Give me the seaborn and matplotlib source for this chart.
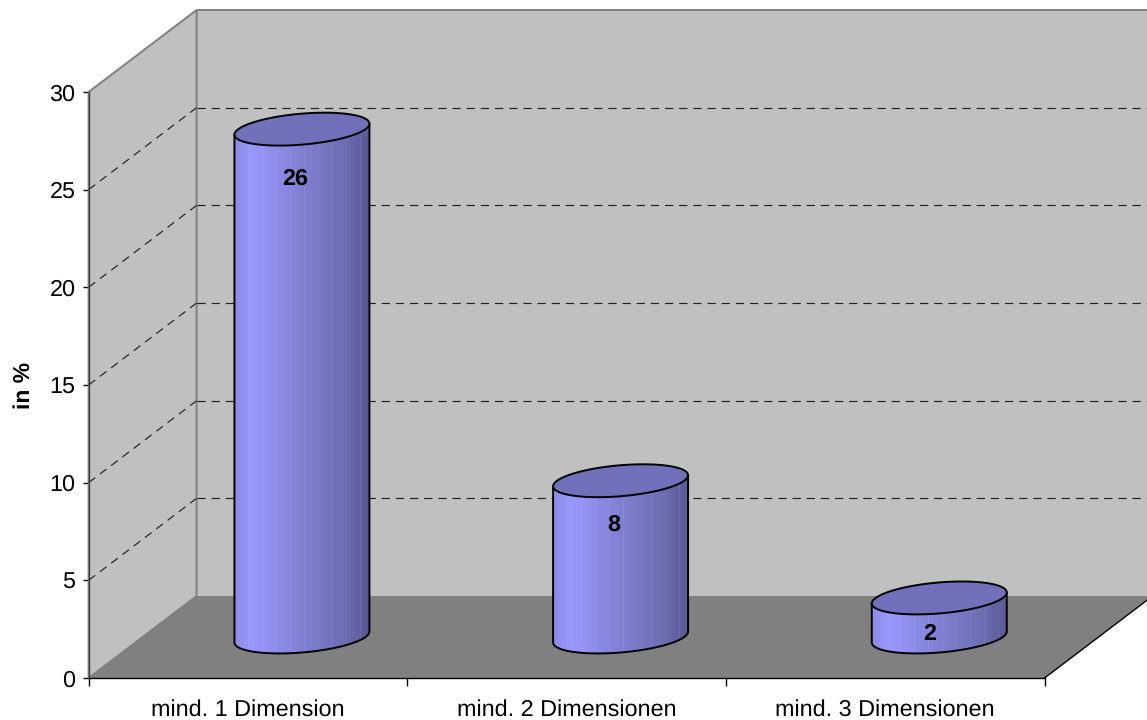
import numpy as np
import pandas as pd
import matplotlib
matplotlib.use("Agg")
import matplotlib.pyplot as plt
from matplotlib.patches import Polygon
from matplotlib.transforms import Affine2D, IdentityTransform
from matplotlib.colors import LinearSegmentedColormap
import seaborn as sns

categories = ["mind. 1 Dimension", "mind. 2 Dimensionen", "mind. 3 Dimensionen"]
values = [26, 8, 2]
y_ticks = [0, 5, 10, 15, 20, 25, 30]
y_label = "in %"

sns.set_theme(style="white")
plt.rcParams["font.family"] = ["Liberation Sans", "DejaVu Sans"]
plt.rcParams["text.hinting"] = "no_hinting"
plt.rcParams["text.hinting_factor"] = 8
FS = 16.8

fig = plt.figure(figsize=(11.47, 7.2), dpi=100, facecolor="white")
ax = fig.add_axes([88.6 / 1147, (720 - 678) / 720, 956 / 1147, 586 / 720])
df = pd.DataFrame({"cat": categories, "val": values})
sns.barplot(data=df, x="cat", y="val", color="#7f7fd1", width=0.4236,
            saturation=1, ax=ax, zorder=3)
ax.set_xlim(-0.5, 2.5)
ax.set_ylim(0, 30)
ax.set_autoscale_on(False)
ax.patch.set_visible(False)

DX, DY = 108, 82       # depth of the pseudo-3D box in pixels
px = IdentityTransform()


def to_px(x, v):
    return ax.transData.transform((x, v))


# walls and floor
fl, bl = to_px(-0.5, 0), to_px(-0.5, 30)
fr, br = to_px(2.5, 0), to_px(2.5, 30)
d = np.array([DX, DY])
WALL, FLOOR, EDGE = "#c0c0c0", "#808080", "#808080"
ax.add_patch(Polygon([fl + d, fr + d, br + d, bl + d], closed=True, fc=WALL, ec="none",
                     transform=px, clip_on=False, zorder=0.5))
ax.add_patch(Polygon([fl, bl, bl + d, fl + d], closed=True, fc=WALL, ec=EDGE, lw=1.4,
                     transform=px, clip_on=False, zorder=0.6))
ax.add_patch(Polygon([fl, fr, fr + d, fl + d], closed=True, fc=FLOOR, ec="none",
                     transform=px, clip_on=False, zorder=0.7))
ax.plot(*np.array([bl + d, br + d]).T, transform=px, color=EDGE, lw=1.4, clip_on=False,
        zorder=0.8)
ax.plot(*np.array([fr, fr + d]).T, transform=px, color="black", lw=1.0, clip_on=False,
        zorder=0.8)

# dashed grid on side wall and back wall
for v in y_ticks[1:-1]:
    p = to_px(-0.5, v)
    q = to_px(2.5, v)
    ax.plot(*np.array([p, p + d]).T, transform=px, color="#222222", lw=0.85,
            dashes=(7, 5), clip_on=False, zorder=0.9)
    ax.plot(*np.array([p + d, q + d]).T, transform=px, color="#222222", lw=0.85,
            dashes=(7, 5), clip_on=False, zorder=0.9)

# cylinders built on the seaborn bars
stops = [(0.0, "#8c8ce6"), (0.13, "#9999ff"), (0.5, "#8080d3"), (0.8, "#6f6fb5"), (1.0, "#5a5a96")]
cmap = LinearSegmentedColormap.from_list("cyl", stops)
grad = cmap(np.linspace(0, 1, 135))
grad[::14, :3] = grad[::14, :3] * 0.93 + 0.07   # faint vertical facets of the cylinder
grad = grad[None, :, :]
TOPC = "#7070bb"
SHEAR, RY = 5.5 / 67.5, 15.5
half = d / 2

bars = [b for b in ax.patches if isinstance(b, matplotlib.patches.Rectangle)
        and b.get_width() < 1 and b.get_height() > 0]
label_shift = [(47, -9), (47, -3), (44, 5)]

for bar, val, shift in zip(bars, values, label_shift):
    xc = bar.get_x() + bar.get_width() / 2
    base = to_px(xc, 0) + half
    top = to_px(xc, val) + half
    a = (to_px(bar.get_x() + bar.get_width(), 0)[0] - to_px(bar.get_x(), 0)[0]) / 2

    def arc(c, t):
        return np.c_[c[0] + a * np.cos(t), c[1] + SHEAR * a * np.cos(t) + RY * np.sin(t)]

    lower = np.linspace(np.pi, 2 * np.pi, 80)
    body = np.vstack([arc(base, lower), arc(top, lower)[::-1]])
    clip = Polygon(body, closed=True, transform=px, fc="none", ec="none")
    ax.add_patch(clip)

    bar.set_transform(ax.transData + Affine2D().translate(*half))
    bar.set_clip_path(clip)
    bar.set_edgecolor("none")

    ext = [base[0] - a, base[0] + a, base[1] - 40, top[1] + 40]
    im = ax.imshow(grad, extent=ext, transform=px, aspect="auto", zorder=3.1,
                   interpolation="nearest", origin="lower")
    im.set_clip_path(clip)

    outline = np.vstack([[top[0] - a, top[1] - SHEAR * a], arc(base, lower),
                         [top[0] + a, top[1] + SHEAR * a]])
    ax.plot(outline[:, 0], outline[:, 1], transform=px, color="black", lw=1.4,
            clip_on=False, zorder=3.2)
    full = np.linspace(0, 2 * np.pi, 160)
    ax.add_patch(Polygon(arc(top, full), closed=True, fc=TOPC, ec="black", lw=1.4,
                         transform=px, clip_on=False, zorder=3.3))
    ax.annotate(f"{val}", xy=(xc, val), xytext=(shift[0] * 0.72, shift[1] * 0.72),
                textcoords="offset points", ha="center", va="center",
                fontsize=FS, fontweight="bold", color="black", zorder=4)

# axes
ax.set_xlim(-0.5, 2.5)
ax.set_ylim(0, 30)
for s in ("top", "right"):
    ax.spines[s].set_visible(False)
for s in ("left", "bottom"):
    ax.spines[s].set_visible(True)
    ax.spines[s].set_color("black")
    ax.spines[s].set_linewidth(1.0)
    ax.spines[s].set_zorder(2)
ax.spines["left"].set_color("#404040")
ax.set_yticks(y_ticks)
ax.set_xticks([-0.5, 0.5, 1.5, 2.5])
ax.set_xticklabels([])
ax.set_xticks([0, 1, 2], minor=True)
ax.set_xticklabels(categories, minor=True)
ax.tick_params(axis="x", which="major", length=6, width=1, color="black", bottom=True)
ax.tick_params(axis="x", which="minor", length=0, pad=15.5, labelsize=FS, labelcolor="black")
ax.tick_params(axis="y", length=4.5, width=1, color="black", left=True, pad=5,
               labelsize=FS, labelcolor="black")
ax.set_xlabel("")
ax.set_ylabel(y_label, fontsize=FS - 0.3, fontweight="bold", color="black", labelpad=11)

fig.savefig("out.png", dpi=100, facecolor="white")
